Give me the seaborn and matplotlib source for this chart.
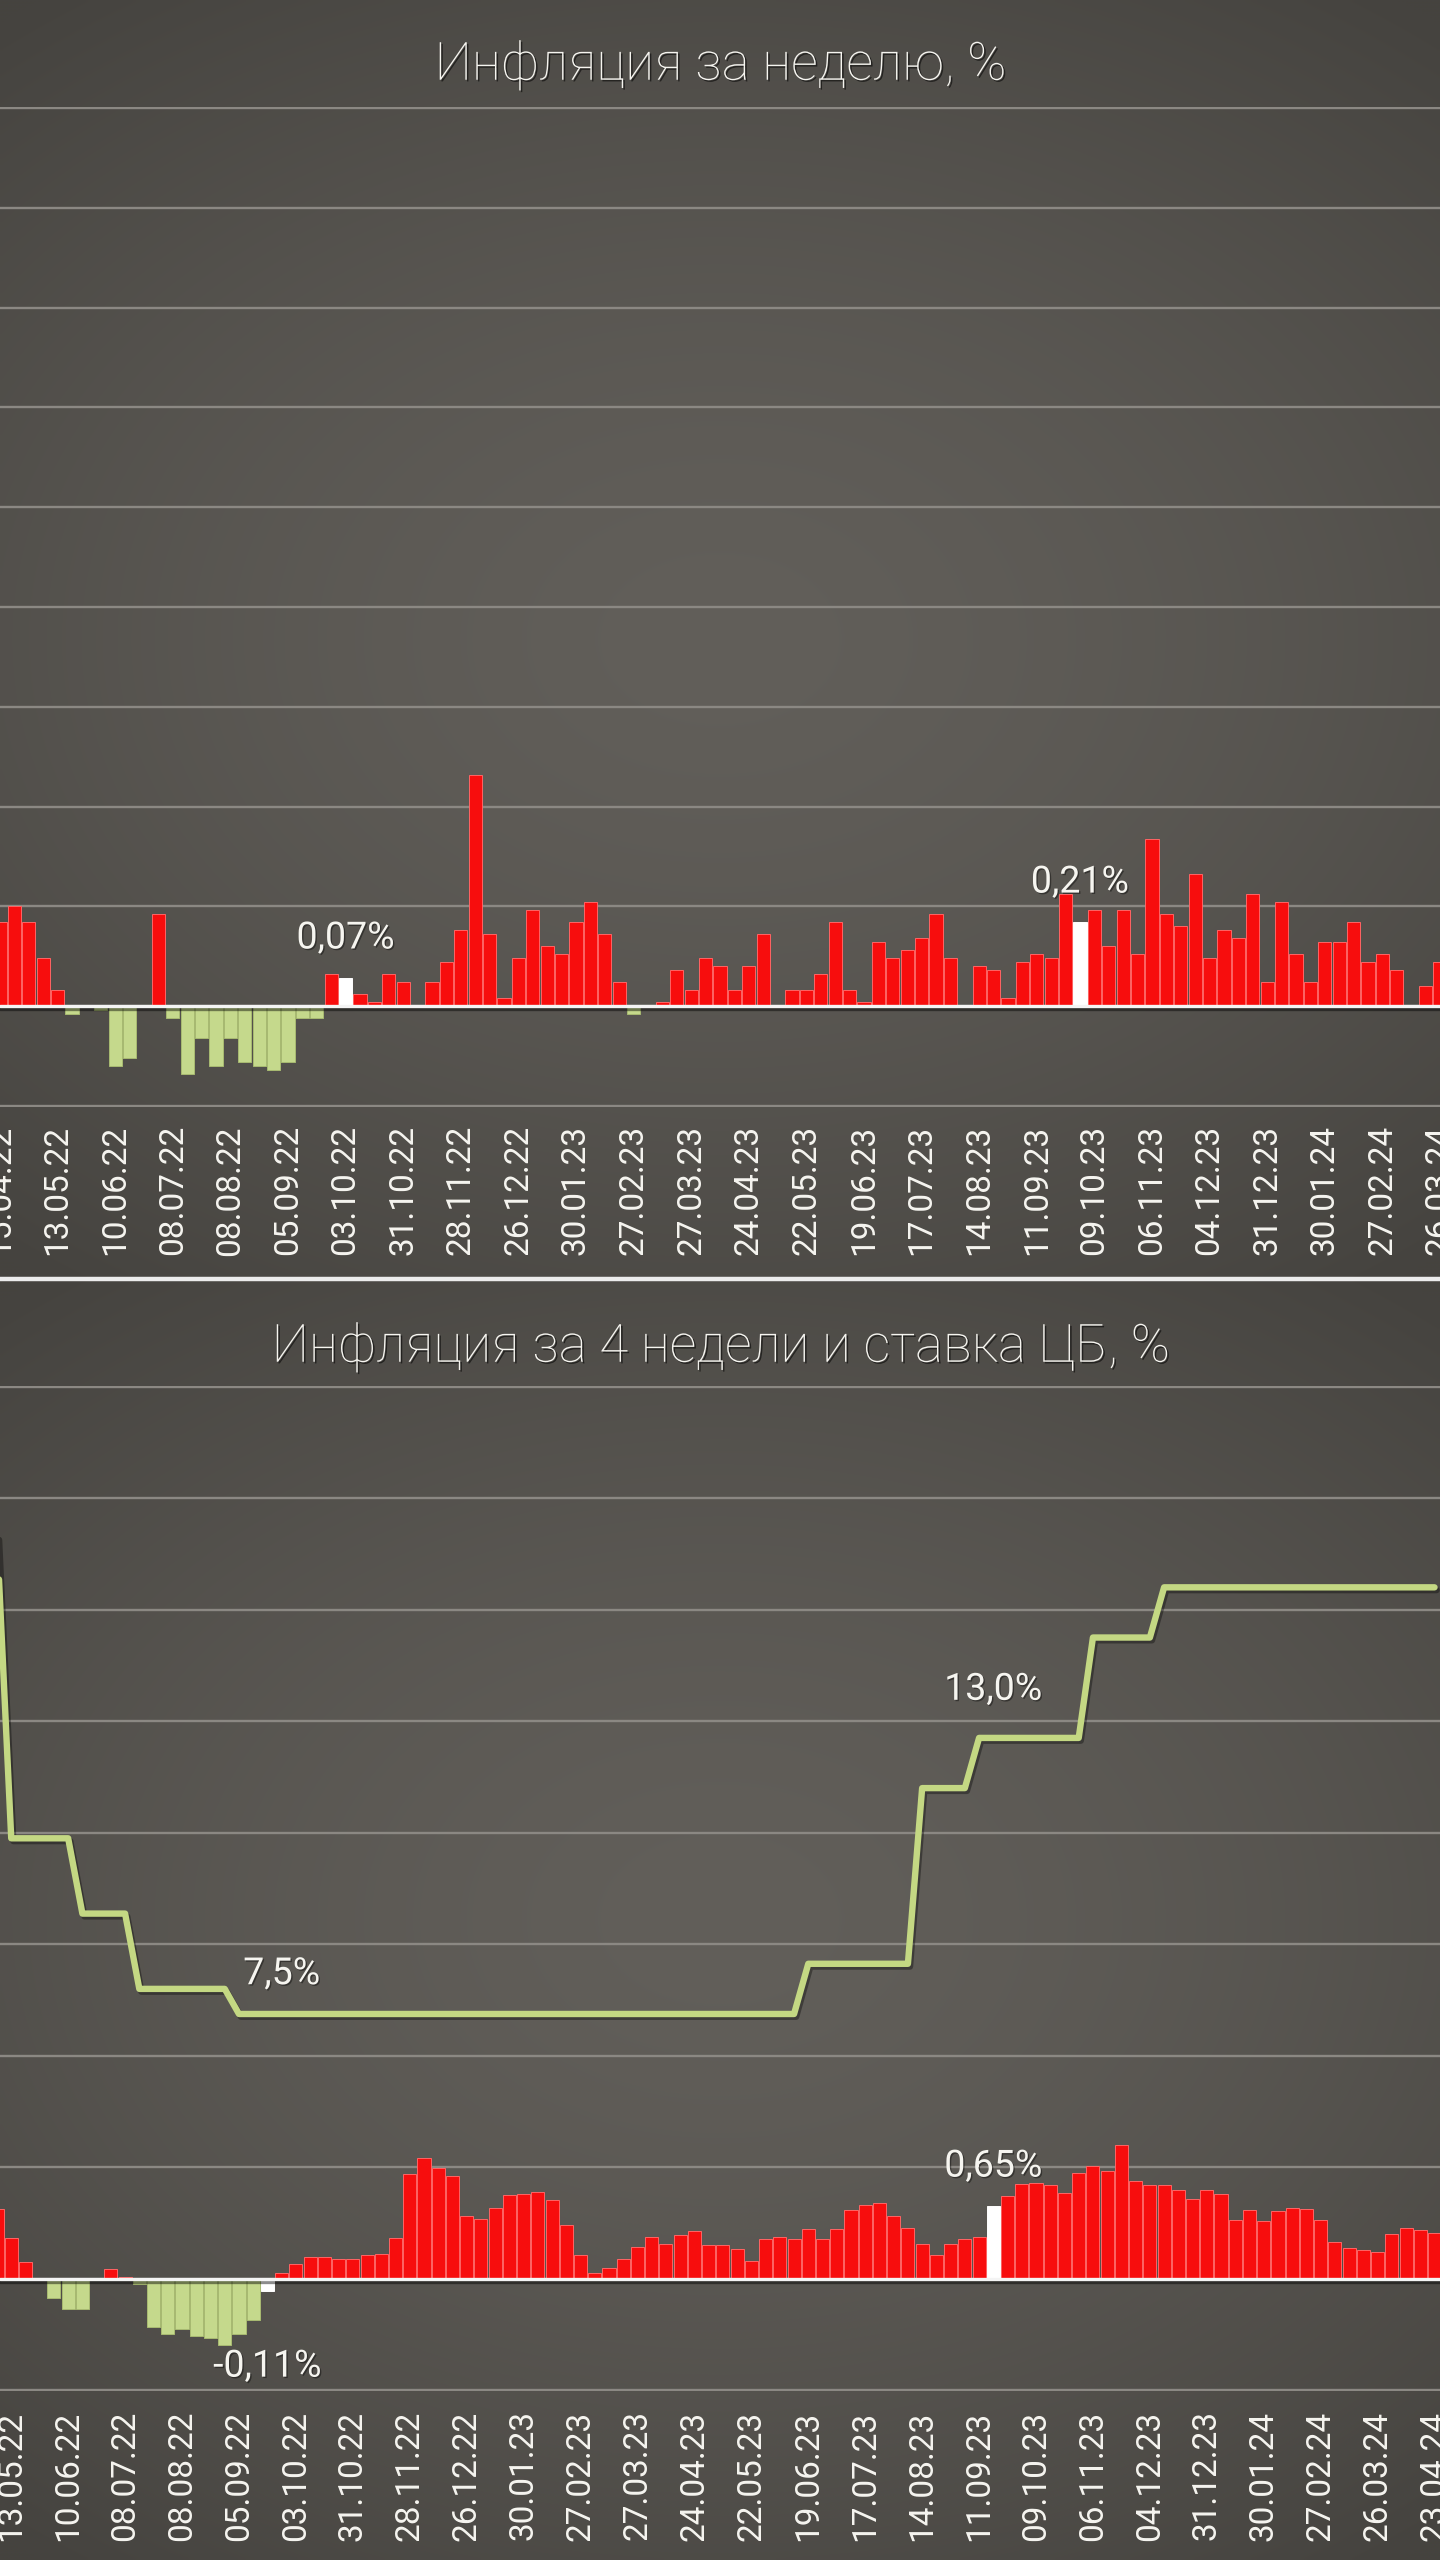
import numpy as np
import pandas as pd
import matplotlib
matplotlib.use("Agg")
import matplotlib.pyplot as plt
import matplotlib.patheffects as pe
from matplotlib.lines import Line2D
import seaborn as sns

# ---------------- data ----------------
weekly_title = "Инфляция за неделю, %"
weekly_tick_labels = ["15.04.22", "13.05.22", "10.06.22", "08.07.22", "08.08.22", "05.09.22",
                      "03.10.22", "31.10.22", "28.11.22", "26.12.22", "30.01.23", "27.02.23",
                      "27.03.23", "24.04.23", "22.05.23", "19.06.23", "17.07.23", "14.08.23",
                      "11.09.23", "09.10.23", "06.11.23", "04.12.23", "31.12.23", "30.01.24",
                      "27.02.24", "26.03.24"]
weekly_values = [0.21, 0.25, 0.21, 0.12, 0.04, -0.02, 0.00, -0.01, -0.15, -0.13,
                 0.00, 0.23, -0.03, -0.17, -0.08, -0.15, -0.08, -0.14, -0.15, -0.16,
                 -0.14, -0.03, -0.03, 0.08, 0.07, 0.03, 0.01, 0.08, 0.06, 0.00,
                 0.06, 0.11, 0.19, 0.58, 0.18, 0.02, 0.12, 0.24, 0.15, 0.13,
                 0.21, 0.26, 0.18, 0.06, -0.02, 0.00, 0.01, 0.09, 0.04, 0.12,
                 0.10, 0.04, 0.10, 0.18, 0.00, 0.04, 0.04, 0.08, 0.21, 0.04,
                 0.01, 0.16, 0.12, 0.14, 0.17, 0.23, 0.12, 0.00, 0.10, 0.09,
                 0.02, 0.11, 0.13, 0.12, 0.28, 0.21, 0.24, 0.15, 0.24, 0.13,
                 0.42, 0.23, 0.20, 0.33, 0.12, 0.19, 0.17, 0.28, 0.06, 0.26,
                 0.13, 0.06, 0.16, 0.16, 0.21, 0.11, 0.13, 0.09, 0.00, 0.05,
                 0.11]
weekly_highlight = [24, 75]
weekly_notes = ["0,07%", "0,21%"]

monthly_title = "Инфляция за 4 недели и ставка ЦБ, %"
monthly_tick_labels = ["13.05.22", "10.06.22", "08.07.22", "08.08.22", "05.09.22", "03.10.22",
                       "31.10.22", "28.11.22", "26.12.22", "30.01.23", "27.02.23", "27.03.23",
                       "24.04.23", "22.05.23", "19.06.23", "17.07.23", "14.08.23", "11.09.23",
                       "09.10.23", "06.11.23", "04.12.23", "31.12.23", "30.01.24", "27.02.24",
                       "26.03.24", "23.04.24"]
monthly_values = [0.63, 0.37, 0.15, 0.00, -0.17, -0.27, -0.27, 0.00, 0.09, 0.02,
                  -0.05, -0.43, -0.49, -0.45, -0.51, -0.53, -0.59, -0.49, -0.37, -0.11,
                  0.05, 0.13, 0.20, 0.20, 0.18, 0.18, 0.21, 0.22, 0.37, 0.94,
                  1.08, 0.99, 0.92, 0.56, 0.54, 0.64, 0.75, 0.76, 0.78, 0.71,
                  0.48, 0.21, 0.05, 0.10, 0.18, 0.29, 0.38, 0.31, 0.39, 0.43,
                  0.30, 0.30, 0.27, 0.16, 0.36, 0.38, 0.36, 0.45, 0.36, 0.45,
                  0.62, 0.66, 0.68, 0.56, 0.46, 0.31, 0.21, 0.31, 0.36, 0.38,
                  0.65, 0.74, 0.85, 0.86, 0.84, 0.77, 0.95, 1.01, 0.97, 1.20,
                  0.88, 0.84, 0.84, 0.80, 0.72, 0.80, 0.76, 0.53, 0.62, 0.52,
                  0.61, 0.64, 0.63, 0.53, 0.33, 0.28, 0.26, 0.24, 0.40, 0.46,
                  0.44, 0.41]
monthly_highlight = [19, 70]
monthly_notes = ["-0,11%", "0,65%"]

key_rate = [17.0, 11.0, 11.0, 11.0, 11.0, 11.0, 9.5, 9.5, 9.5, 9.5,
            8.0, 8.0, 8.0, 8.0, 8.0, 8.0, 8.0, 7.5, 7.5, 7.5,
            7.5, 7.5, 7.5, 7.5, 7.5, 7.5, 7.5, 7.5, 7.5, 7.5,
            7.5, 7.5, 7.5, 7.5, 7.5, 7.5, 7.5, 7.5, 7.5, 7.5,
            7.5, 7.5, 7.5, 7.5, 7.5, 7.5, 7.5, 7.5, 7.5, 7.5,
            7.5, 7.5, 7.5, 7.5, 7.5, 7.5, 7.5, 8.5, 8.5, 8.5,
            8.5, 8.5, 8.5, 8.5, 8.5, 12.0, 12.0, 12.0, 12.0, 13.0,
            13.0, 13.0, 13.0, 13.0, 13.0, 13.0, 13.0, 15.0, 15.0, 15.0,
            15.0, 15.0, 16.0, 16.0, 16.0, 16.0, 16.0, 16.0, 16.0, 16.0,
            16.0, 16.0, 16.0, 16.0, 16.0, 16.0, 16.0, 16.0, 16.0, 16.0,
            16.0, 16.0]
rate_note_points = [20, 70]
rate_notes = ["7,5%", "13,0%"]

# ---------------- style ----------------
RED = "#f70d0d"
RED_EDGE = "#ff6464"
GREEN = "#c5d98c"
GREEN_EDGE = "#a8bb72"
WHITE = "#ffffff"
LINE_GREEN = "#c4d883"
TXT = "#f6f5f0"
GRID = "#8b8883"

sns.set_theme(style="dark")
FONT = ["Roboto", "DejaVu Sans"]
plt.rcParams["font.family"] = FONT

W_PX, H_PX = 1440, 2560
fig = plt.figure(figsize=(W_PX / 100, H_PX / 100), dpi=100)

# background with soft radial vignette per panel
gh, gw = 640, 360
yy, xx = np.mgrid[0:gh, 0:gw]
xs = (xx + 0.5) / gw
ys = (yy + 0.5) / gh
img = np.zeros((gh, gw, 3))
c_center = np.array([0x62, 0x5f, 0x5a]) / 255
c_edge = np.array([0x45, 0x43, 0x3f]) / 255
sep = 1279 / H_PX
for (y0, y1) in [(0.0, sep), (sep, 1.0)]:
    m = (ys >= y0) & (ys < y1)
    cy = (y0 + y1) / 2
    hh = (y1 - y0) / 2
    r = np.sqrt(((xs - 0.5) / 0.78) ** 2 + ((ys - cy) / (hh * 1.25)) ** 2)
    t = np.clip(r, 0, 1) ** 1.5
    for c in range(3):
        img[..., c] = np.where(m, c_center[c] * (1 - t) + c_edge[c] * t, img[..., c])
ax_bg = fig.add_axes([0, 0, 1, 1], zorder=-10)
ax_bg.imshow(img, extent=[0, 1, 0, 1], aspect="auto", interpolation="bilinear")
ax_bg.set_xlim(0, 1)
ax_bg.set_ylim(0, 1)
ax_bg.axis("off")

shadow = [pe.SimplePatchShadow(offset=(1.2, -1.2), shadow_rgbFace="black", alpha=0.55), pe.Normal()]
note_fx = [pe.SimplePatchShadow(offset=(1.0, -1.0), shadow_rgbFace="black", alpha=0.4), pe.Normal()]


def px_rect(top_px, bottom_px):
    return [0, (H_PX - bottom_px) / H_PX, 1, (bottom_px - top_px) / H_PX]


def draw_bars(ax, values, highlight, pitch_px, first_center_px):
    n = len(values)
    kind = []
    for i, v in enumerate(values):
        if i in highlight:
            kind.append("hl")
        elif v >= 0:
            kind.append("pos")
        else:
            kind.append("neg")
    df = pd.DataFrame({"week": np.arange(n), "value": values, "kind": kind})
    sns.barplot(data=df, x="week", y="value", hue="kind",
                palette={"pos": RED, "neg": GREEN, "hl": WHITE},
                dodge=False, native_scale=True, width=0.92, saturation=1,
                legend=False, ax=ax, zorder=2)
    for p in ax.patches:
        fc = p.get_facecolor()
        if fc[0] > 0.9 and fc[1] < 0.3:
            p.set_edgecolor(RED_EDGE)
        elif fc[0] > 0.95 and fc[1] > 0.95:
            p.set_edgecolor(WHITE)
        else:
            p.set_edgecolor(GREEN_EDGE)
        p.set_linewidth(0.7)
    left = -first_center_px / pitch_px
    ax.set_xlim(left, left + W_PX / pitch_px)
    ax.axhline(0, color="#f4f4f4", lw=2.4, zorder=4,
               path_effects=[pe.SimpleLineShadow(offset=(0, -2), shadow_color="black", alpha=0.45), pe.Normal()])


def style_axis(ax, tick_pos, tick_labels, yticks, pad):
    ax.set_facecolor("none")
    for s in ax.spines.values():
        s.set_visible(False)
    ax.set_yticks(yticks)
    ax.set_yticklabels([])
    ax.grid(axis="y", color=GRID, lw=1.7, zorder=0)
    ax.grid(axis="x", visible=False)
    ax.set_xticks(tick_pos)
    ax.set_xticklabels(tick_labels, rotation=90, color=TXT, fontsize=24,
                       fontweight="normal", family=FONT)
    ax.tick_params(axis="x", length=0, pad=pad)
    ax.tick_params(axis="y", length=0)
    ax.set_xlabel("")
    ax.set_ylabel("")


# ---------------- top panel: weekly ----------------
ax1 = fig.add_axes(px_rect(107, 1107))
draw_bars(ax1, weekly_values, weekly_highlight, 14.5, -5.0)
ax1.set_ylim(-0.2525, 2.2525)
style_axis(ax1, [4 * j for j in range(len(weekly_tick_labels))], weekly_tick_labels,
           np.arange(-0.25, 2.26, 0.25), 13)
for i, note in zip(weekly_highlight, weekly_notes):
    ax1.annotate(note, (i, weekly_values[i]), xytext=(0, 29), textcoords="offset points",
                 ha="center", va="center", color=TXT, fontsize=27, fontweight="normal",
                 family=FONT, zorder=6, path_effects=note_fx)

# ---------------- bottom panel: 4 weeks + key rate ----------------
ax2 = fig.add_axes(px_rect(1386, 2391))
draw_bars(ax2, monthly_values, monthly_highlight, 14.233, -3.0)
ax2.set_ylim(-1.005, 8.005)
style_axis(ax2, [1 + 4 * j for j in range(len(monthly_tick_labels))], monthly_tick_labels,
           np.arange(-1, 8.1, 1), 14)
for i, note in zip(monthly_highlight, monthly_notes):
    v = monthly_values[i]
    off = 29 if v >= 0 else -54
    ax2.annotate(note, (i, v), xytext=(0, off), textcoords="offset points",
                 ha="center", va="center", color=TXT, fontsize=27, fontweight="normal",
                 family=FONT, zorder=6, path_effects=note_fx)

ax3 = ax2.twinx()
ax3.set_ylim(-0.005 * 20 / 9, 20 + 0.005 * 20 / 9)
sns.lineplot(x=np.arange(len(key_rate)), y=key_rate, ax=ax3, color=LINE_GREEN, lw=4.6,
             zorder=5, path_effects=[pe.SimpleLineShadow(offset=(1.5, -2), shadow_color="black", alpha=0.35),
                                     pe.Normal()])
ax3.set_xlim(ax2.get_xlim())
ax3.set_yticks([])
ax3.set_ylabel("")
ax3.grid(False)
for s in ax3.spines.values():
    s.set_visible(False)
for i, note, off in zip(rate_note_points, rate_notes, [29, 35]):
    ax3.annotate(note, (i, key_rate[i]), xytext=(0, off), textcoords="offset points",
                 ha="center", va="center", color=TXT, fontsize=27, fontweight="normal",
                 family=FONT, zorder=6, path_effects=note_fx)

# ---------------- titles & separator ----------------
fig.text(0.5, 1 - 65 / H_PX, weekly_title, ha="center", va="center", color=TXT,
         fontsize=38, fontweight="light", family=FONT, path_effects=shadow)
fig.text(0.5, 1 - 1347 / H_PX, monthly_title, ha="center", va="center", color=TXT,
         fontsize=38, fontweight="light", family=FONT, path_effects=shadow)
fig.add_artist(Line2D([0, 1], [1 - 1279 / H_PX] * 2, transform=fig.transFigure,
                      color="#ececec", lw=3.2))

fig.savefig("out.png", dpi=100)
